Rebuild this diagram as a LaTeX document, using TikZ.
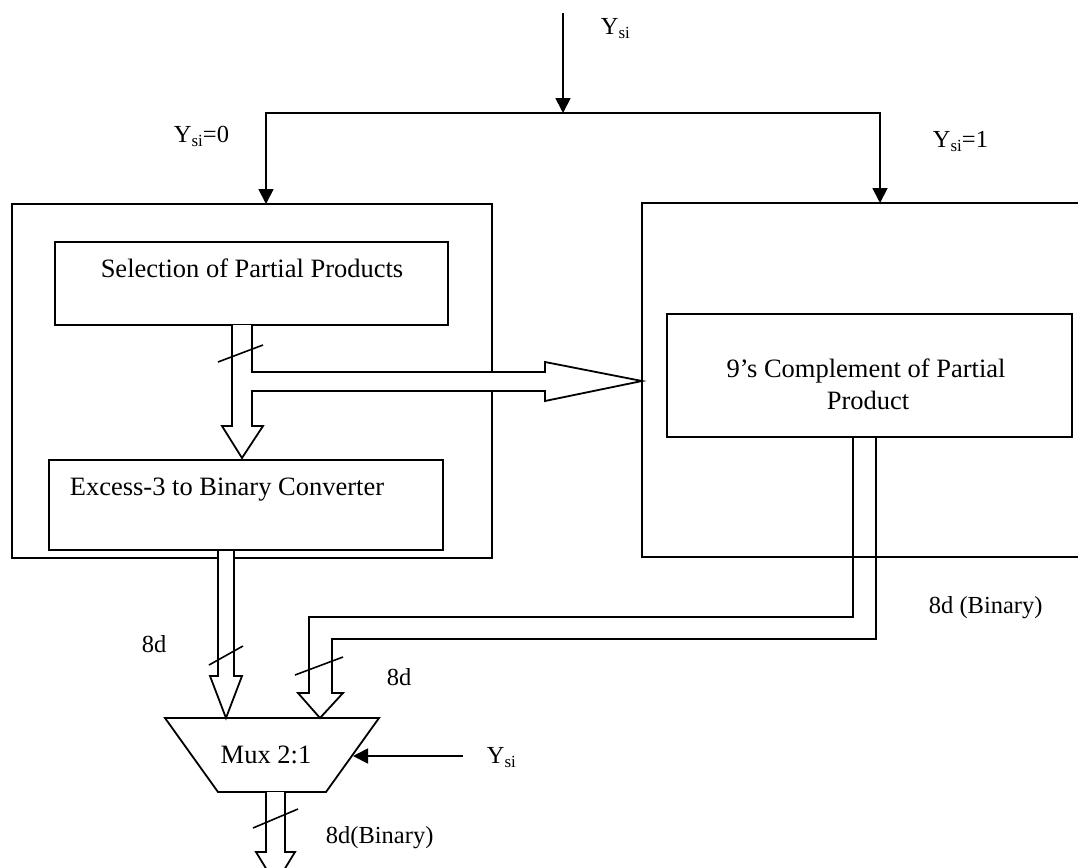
\documentclass[tikz,border=0pt]{standalone}
\usepackage{fontspec}
\setmainfont{Liberation Serif}
\usetikzlibrary{arrows.meta}
\newcommand{\ysub}[1]{Y\raisebox{-4pt}{\fontsize{17}{17}\selectfont #1}}
\begin{document}
\begin{tikzpicture}[x=1pt,y=-1pt, line width=1.8pt,
  box/.style={draw, rectangle, inner sep=0pt, outer sep=0pt, anchor=north west},
  lbl/.style={inner sep=0pt, anchor=base west, font=\fontsize{24.5}{28}\selectfont},
  btxt/.style={inner sep=0pt, anchor=base, font=\fontsize{26.5}{30}\selectfont},
  sig/.style={-{Triangle[length=15pt,width=15pt]}},
  bus/.style={draw, line join=miter},
  slashline/.style={line width=1.6pt}]
\clip (0,0) rectangle (1078,867);
% boxes
\node[box, minimum width=480pt, minimum height=354pt] (outerL) at (12,204) {};
\node[box, minimum width=393pt, minimum height=83pt] (sel) at (55,242) {};
\node[box, minimum width=394pt, minimum height=90pt] (exc) at (49,460) {};
\node[box, minimum width=480pt, minimum height=354pt] (outerR) at (642,203) {};
\node[box, minimum width=405pt, minimum height=123pt] (comp) at (667,314) {};
% box texts
\node[btxt] (seltxt) at (252,277) {Selection of Partial Products};
\node[btxt, anchor=base west] (exctxt) at (69,495) {Excess-3 to Binary Converter};
\node[btxt] (comptxt1) at (866,377) {9’s Complement of Partial};
\node[btxt] (comptxt2) at (868,409) {Product};
% mux
\draw (165,718) coordinate (mtl) -- (379,718) coordinate (mtr) -- (326,792) coordinate (mbr) -- (218,792) coordinate (mbl) -- cycle;
\node[btxt] (mux) at (266,763) {Mux 2:1};
% labels
\node[lbl] (ytop) at (600,35) {\ysub{si}};
\node[lbl] (y0) at (173,142) {\ysub{si}=0};
\node[lbl] (y1) at (932,147) {\ysub{si}=1};
\node[lbl] (l8a) at (141,652) {8d};
\node[lbl] (l8b) at (386,685) {8d};
\node[lbl] (l8c) at (928,613) {8d (Binary)};
\node[lbl] (l8d) at (325,843) {8d(Binary)};
\node[lbl] (ymux) at (486,763) {\ysub{si}};
% control signal arrows
\coordinate (t0) at (563,13);
\coordinate (split) at (563,113);
\coordinate (inL) at (266,204);
\coordinate (inR) at (880,203);
\draw[sig] (t0) -- (split);
\draw[sig] (split) -| (inL);
\draw[sig] (split) -| (inR);
\coordinate (ys3) at (463,756);
\coordinate (muxin) at (353,756);
\draw[sig] (ys3) -- (muxin);
% bus from selection (down to excess, right to complement)
\filldraw[bus, fill=white] (232,325) -- (232,426) -- (222,426) -- (242,458) -- (263,426) -- (252,426) -- (252,391)
  -- (545,391) -- (545,401) -- (642,381) -- (545,362) -- (545,372) -- (252,372) -- (252,325);
% bus from excess to mux
\filldraw[bus, fill=white] (218,551) -- (218,676) -- (210,676) -- (226,718) -- (242,676) -- (234,676) -- (234,551);
% bus from complement to mux
\draw[bus] (853,437) -- (853,617) -- (309,617) -- (309,693) -- (298,693) -- (320,718) -- (343,693) -- (332,693)
  -- (332,639) -- (876,639) -- (876,437);
% output bus
\filldraw[bus, fill=white] (266,792) -- (266,852) -- (256,852) -- (275.5,884) -- (295,852) -- (285,852) -- (285,792);
% slashes
\draw[slashline] (218,362) -- (263,345);
\draw[slashline] (209,665) -- (243,646);
\draw[slashline] (295,675) -- (343,657);
\draw[slashline] (253,828) -- (298,809);
\end{tikzpicture}
\end{document}
